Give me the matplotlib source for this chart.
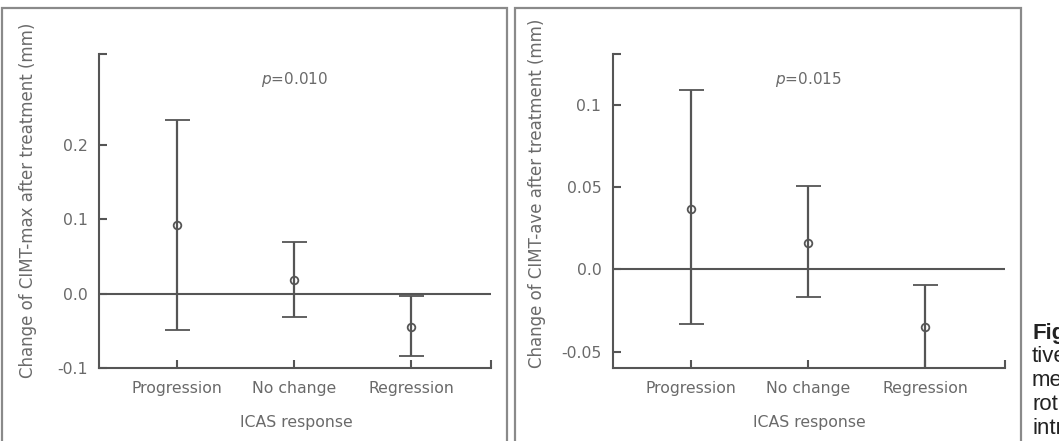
import matplotlib
matplotlib.use("Agg")
import matplotlib.pyplot as plt
from matplotlib.patches import Rectangle

# values (mean and 95% CI)
groups = ["Progression", "No change", "Regression"]
max_mean = [0.092, 0.019, -0.044]
max_low = [-0.048, -0.031, -0.084]
max_high = [0.233, 0.069, -0.003]
ave_mean = [0.037, 0.016, -0.035]
ave_low = [-0.033, -0.017, -0.0605]
ave_high = [0.109, 0.051, -0.0095]

max_ticks = [-0.1, 0.0, 0.1, 0.2]
max_ticklabels = ["-0.1", "0.0", "0.1", "0.2"]
ave_ticks = [-0.05, 0.0, 0.05, 0.1]
ave_ticklabels = ["-0.05", "0.0", "0.05", "0.1"]

line_c = "#555555"
text_c = "#6a6a6a"
W, H = 1059, 441

fig = plt.figure(figsize=(W / 100, H / 100), dpi=100)


def px_box(x0, x1, ytop, ybot):
    return [x0 / W, 1 - ybot / H, (x1 - x0) / W, (ybot - ytop) / H]


def panel(rect, mean, low, high, ticks, ticklabels, ylim, ptext):
    ax = fig.add_axes(rect)
    xs = [1, 2, 3]
    err = [[m - l for m, l in zip(mean, low)], [h - m for m, h in zip(mean, high)]]
    ax.axhline(0, color=line_c, lw=1.5, zorder=1)
    ax.errorbar(xs, mean, yerr=err, fmt="o", color=line_c, mfc="none",
                mec=line_c, ms=5.5, mew=1.3, elinewidth=1.6, capsize=9,
                capthick=1.6, zorder=2)
    xlim = (0.335, 3.68)
    ax.set_xlim(*xlim)
    ax.set_ylim(*ylim)
    ax.set_xticks(xs + [xlim[1]])
    ax.set_xticklabels(groups + [""])
    ax.set_yticks(ticks + [ylim[1]])
    ax.set_yticklabels(ticklabels + [""])
    for s in ["top", "right"]:
        ax.spines[s].set_visible(False)
    for s in ["left", "bottom"]:
        ax.spines[s].set_color(line_c)
        ax.spines[s].set_linewidth(1.5)
    ax.tick_params(direction="in", length=6, width=1.5, color=line_c,
                   labelcolor=text_c, labelsize=11.3)
    ax.tick_params(axis="x", pad=9)
    ax.tick_params(axis="y", pad=8)
    ax.text(2, ylim[0] + 0.92 * (ylim[1] - ylim[0]), ptext, ha="center",
            va="center", fontsize=11, color=text_c)
    return ax


panel(px_box(99, 491, 54, 368.3), max_mean, max_low, max_high,
      max_ticks, max_ticklabels, (-0.1, 0.322), r"$\it{p}$=0.010")
panel(px_box(612.6, 1005.3, 54, 368.3), ave_mean, ave_low, ave_high,
      ave_ticks, ave_ticklabels, (-0.0602, 0.131), r"$\it{p}$=0.015")

fig.text(28 / W, 1 - 200 / H, "Change of CIMT-max after treatment (mm)",
         rotation=90, ha="center", va="center", fontsize=12, color=text_c)
fig.text(537 / W, 1 - 193 / H, "Change of CIMT-ave after treatment (mm)",
         rotation=90, ha="center", va="center", fontsize=12, color=text_c)
fig.text(296 / W, 1 - 422.7 / H, "ICAS response", ha="center", va="center",
         fontsize=11.3, color=text_c)
fig.text(809 / W, 1 - 422.7 / H, "ICAS response", ha="center", va="center",
         fontsize=11.3, color=text_c)

# panel frames
for x0, x1 in [(2, 507), (515, 1021)]:
    fig.patches.append(Rectangle((x0 / W, -0.1), (x1 - x0) / W, 1.1 - 8 / H,
                                 transform=fig.transFigure, fill=False,
                                 ec="#8a8a8a", lw=1.6))

# caption that is cut off at the right edge, as in the source image
caption = ["Fig", "tive", "me", "rot", "intr"]
for i, word in enumerate(caption):
    fig.text(1032 / W, 1 - (333 + 24 * i) / H, word, ha="left", va="center",
             fontsize=16, family="Liberation Sans", color="#222222",
             fontweight="bold" if i == 0 else "normal")

fig.savefig("out.png", dpi=100)
